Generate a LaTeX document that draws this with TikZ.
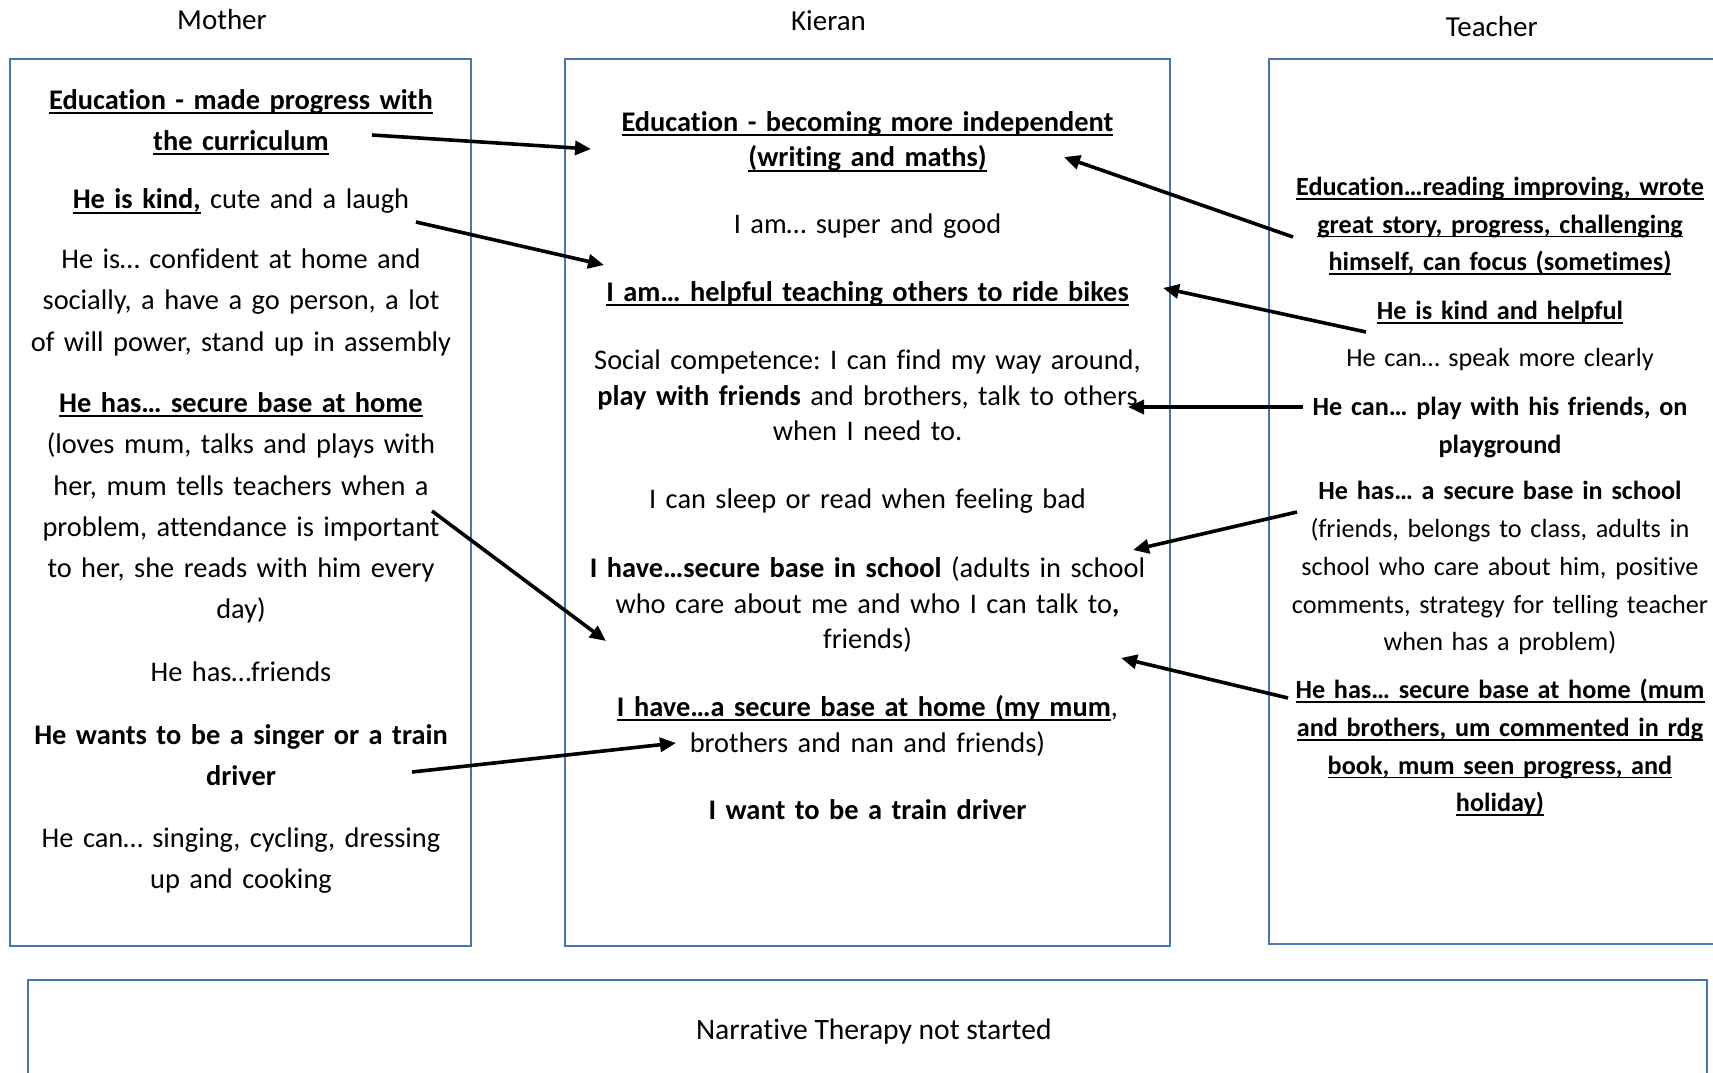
\documentclass[tikz,border=0pt]{standalone}
\usepackage{fontspec}
\setmainfont{Carlito}[Ligatures={NoCommon}]
\usetikzlibrary{arrows.meta}
\definecolor{boxblue}{RGB}{72,118,175}
\newcommand\myul[1]{\leavevmode\setbox0\hbox{#1}\rlap{\rule[-0.17em]{\wd0}{0.07em}}\box0}
\frenchspacing
\begin{document}
\begin{tikzpicture}[x=1pt,y=-1pt,
  every node/.style={inner sep=0pt,execute at begin node=\frenchspacing},
  boxline/.style={draw=boxblue,line width=2.2pt},
  mtxt/.style={font=\fontsize{28.4}{41.3}\selectfont,text width=500pt,align=center,anchor=north,yshift=28.91pt},
  ktxt/.style={font=\fontsize{28.4}{35.8}\selectfont,text width=640pt,align=center,anchor=north,yshift=25.06pt},
  ttxt/.style={font=\fontsize{26.2}{37.8}\selectfont,text width=460pt,align=center,anchor=north,yshift=26.46pt},
  lbl/.style={font=\fontsize{29}{35}\selectfont,anchor=base},
  arr/.style={line width=3.6pt,-{Triangle[length=16pt,width=14pt]}}]
\useasboundingbox (0,0) rectangle (1713,1073);
\clip (0,0) rectangle (1713,1073);
\fill[white] (0,0) rectangle (1713,1073);
% boxes
\draw[boxline] (10,59) rectangle (471,946);
\draw[boxline] (565,59) rectangle (1170,946);
\draw[boxline] (1269,59) rectangle (1740,944);
\draw[boxline] (28,980) rectangle (1707,1100);
% labels
\node[lbl] (lmother) at (222,29.5) {Mother};
\node[lbl] (lkieran) at (828.5,30.7) {Kieran};
\node[lbl] (lteacher) at (1491.7,36.7) {Teacher};
\node[lbl,font=\fontsize{29.6}{35}\selectfont] (bottom) at (873.8,1039) {Narrative Therapy not started};
% Mother
\node[mtxt] (m1) at (241,108.8) {\strut\bfseries\myul{Education - made progress with}\\\myul{the curriculum}};
\node[mtxt] (m2) at (241,208.5) {\strut\textbf{\myul{He is kind,}} cute and a laugh};
\node[mtxt] (m3) at (241,268.2) {\strut He is… confident at home and\\socially, a have a go person, a lot\\of will power, stand up in assembly};
\node[mtxt] (m4) at (241,412.2) {\strut\textbf{\myul{He has… secure base at home}}\\(loves mum, talks and plays with\\her, mum tells teachers when a\\problem, attendance is important\\to her, she reads with him every\\day)};
\node[mtxt] (m5) at (241,681.5) {\strut He has…friends};
\node[mtxt] (m6) at (241,743.9) {\strut\bfseries He wants to be a singer or a train\\driver};
\node[mtxt] (m7) at (241,847.4) {\strut He can… singing, cycling, dressing\\up and cooking};
% Kieran
\node[ktxt] (k1) at (867.5,131) {\strut\bfseries\myul{Education - becoming more independent}\\\myul{(writing and maths)}};
\node[ktxt] (k2) at (867.5,233.5) {\strut I am… super and good};
\node[ktxt] (k3) at (867.5,301) {\strut\bfseries\myul{I am… helpful teaching others to ride bikes}};
\node[ktxt] (k4) at (867.5,369) {\strut Social competence: I can find my way around,\\\textbf{play with friends} and brothers, talk to others\\when I need to.};
\node[ktxt] (k5) at (867.5,508.5) {\strut I can sleep or read when feeling bad};
\node[ktxt] (k6) at (867.5,577) {\strut\textbf{I have…secure base in school} (adults in school\\who care about me and who I can talk to\textbf{,}\\friends)};
\node[ktxt] (k7) at (867.5,716) {\strut\textbf{\myul{I have…a secure base at home (my mum}},\\brothers and nan and friends)};
\node[ktxt] (k8) at (867.5,819.5) {\strut\bfseries I want to be a train driver};
% Teacher
\node[ttxt] (t1) at (1500,195) {\strut\bfseries\myul{Education…reading improving, wrote}\\\myul{great story, progress, challenging}\\\myul{himself, can focus (sometimes)}};
\node[ttxt] (t2) at (1500,319.3) {\strut\bfseries\myul{He is kind and helpful}};
\node[ttxt] (t3) at (1500,366.7) {\strut He can… speak more clearly};
\node[ttxt] (t4) at (1500,415) {\strut\bfseries He can… play with his friends, on\\playground};
\node[ttxt] (t5) at (1500,499.5) {\strut\textbf{He has… a secure base in school}\\(friends, belongs to class, adults in\\school who care about him, positive\\comments, strategy for telling teacher\\when has a problem)};
\node[ttxt] (t6) at (1500,698.2) {\strut\bfseries\myul{He has… secure base at home (mum}\\\myul{and brothers, um commented in rdg}\\\myul{book, mum seen progress, and}\\\myul{holiday)}};
% arrow ends
\coordinate (a1s) at (372,135);  \coordinate (a1e) at (591,149);
\coordinate (a2s) at (416,222);  \coordinate (a2e) at (604,265);
\coordinate (a3s) at (432,511);  \coordinate (a3e) at (606,641);
\coordinate (a4s) at (412,772);  \coordinate (a4e) at (676,743);
\coordinate (a5s) at (1293,237); \coordinate (a5e) at (1064,157);
\coordinate (a6s) at (1366,332); \coordinate (a6e) at (1163,288);
\coordinate (a7s) at (1303,407); \coordinate (a7e) at (1128,407);
\coordinate (a8s) at (1297,512); \coordinate (a8e) at (1133,550);
\coordinate (a9s) at (1288,698); \coordinate (a9e) at (1121,658);
\foreach \i in {1,...,9} {\draw[arr] (a\i s) -- (a\i e);}
\end{tikzpicture}
\end{document}
